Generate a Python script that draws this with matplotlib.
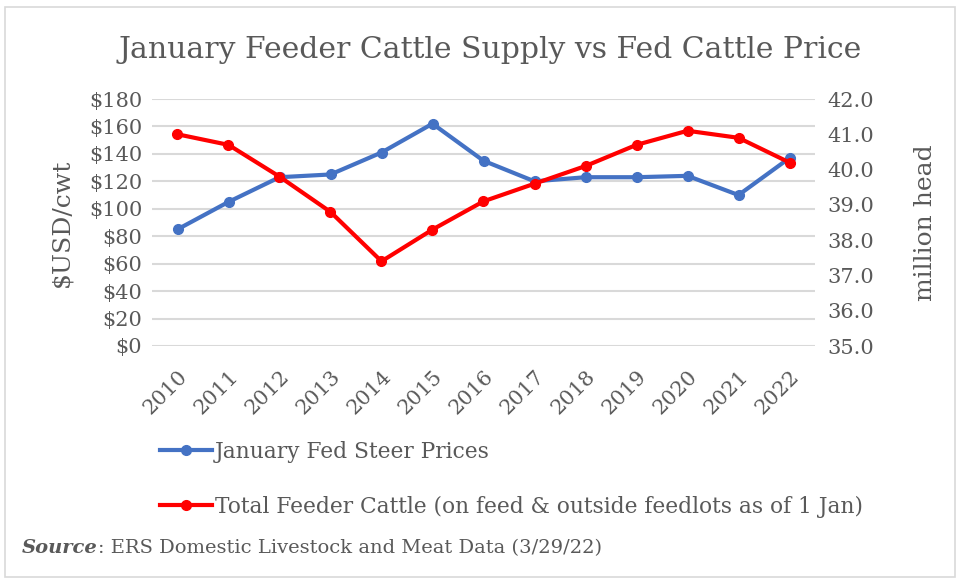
import matplotlib

matplotlib.use('Agg')
import matplotlib.pyplot as plt
from matplotlib.patches import Rectangle
from matplotlib.ticker import FuncFormatter

plt.rcParams['font.family'] = ['DejaVu Serif']

years = ['2010', '2011', '2012', '2013', '2014', '2015', '2016',
         '2017', '2018', '2019', '2020', '2021', '2022']
steer_price = [85, 105, 123, 125, 141, 162, 135, 120, 123, 123, 124, 110, 137]
feeder_cattle = [41.0, 40.7, 39.8, 38.8, 37.4, 38.3, 39.1, 39.6, 40.1, 40.7, 41.1, 40.9, 40.2]

blue = '#4472C4'
red = '#FF0000'
grey = '#595959'

fig = plt.figure(figsize=(9.58, 5.82), dpi=100)
# chart border
fig.add_artist(Rectangle((5 / 958, 5 / 582), 950 / 958, 570 / 582, transform=fig.transFigure,
                         fill=False, edgecolor='#D9D9D9', lw=1.2))

ax = fig.add_axes([152 / 958, 1 - 346 / 582, 663 / 958, 247 / 582])
ax2 = ax.twinx()

x = list(range(len(years)))
l1, = ax.plot(x, steer_price, color=blue, lw=3, marker='o', ms=7, label='January Fed Steer Prices',
              zorder=3)
l2, = ax2.plot(x, feeder_cattle, color=red, lw=3, marker='o', ms=7,
               label='Total Feeder Cattle (on feed & outside feedlots as of 1 Jan)', zorder=3)

ax.set_xlim(-0.5, len(years) - 0.5)
ax.set_ylim(0, 180)
ax.set_yticks(range(0, 181, 20))
ax.yaxis.set_major_formatter(FuncFormatter(lambda v, p: '$%d' % v))
ax2.set_ylim(35, 42)
ax2.set_yticks([35, 36, 37, 38, 39, 40, 41, 42])
ax2.yaxis.set_major_formatter(FuncFormatter(lambda v, p: '%.1f' % v))

ax.grid(axis='y', color='#D9D9D9', lw=1.5)
ax.set_axisbelow(True)
for a in (ax, ax2):
    for s in a.spines.values():
        s.set_visible(False)
    a.tick_params(length=0, labelsize=15, colors=grey)
ax.tick_params(axis='y', pad=7)
ax2.tick_params(axis='y', pad=9)

ax.set_xticks(x)
ax.set_xticklabels(years, rotation=45, ha='right', rotation_mode='anchor')
ax.tick_params(axis='x', pad=15)

ax.set_ylabel('$USD/cwt', fontsize=18, color=grey)
ax.yaxis.set_label_coords(-0.118, 0.5)
ax2.set_ylabel('million head', fontsize=18, color=grey, rotation=90)
ax2.yaxis.set_label_coords(1.15, 0.5)

fig.text(490 / 958, 1 - 50 / 582, 'January Feeder Cattle Supply vs Fed Cattle Price',
         ha='center', va='center', fontsize=21.5, color=grey)

fig.legend(handles=[l1, l2], loc='upper left', bbox_to_anchor=(160 / 958, 1 - 441 / 582),
           frameon=False, fontsize=15.7, labelcolor=grey, labelspacing=1.5, borderpad=0,
           borderaxespad=0, handlelength=2.4, handletextpad=0.1)

t1 = fig.text(22 / 958, 1 - 548 / 582, 'Source', fontsize=14, color=grey,
              fontweight='bold', fontstyle='italic', va='center')
ax.annotate(': ERS Domestic Livestock and Meat Data (3/29/22)', xy=(1, 0.5), xycoords=t1,
            va='center', ha='left', fontsize=14, color=grey, annotation_clip=False)

fig.savefig('out.png', dpi=100)
